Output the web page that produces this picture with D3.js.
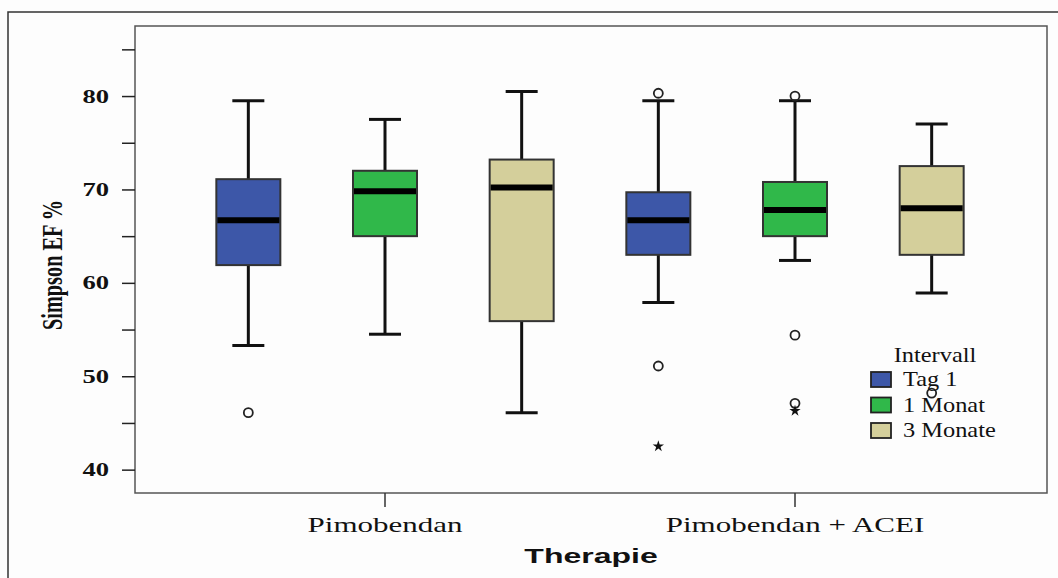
<!DOCTYPE html>
<html>
<head>
<meta charset="utf-8">
<script src="https://cdn.jsdelivr.net/npm/d3@7"></script>
<style>
  body { margin: 0; background: #fdfdfd; }
  svg { display: block; }
  .tick-num { font-family: "Liberation Serif", serif; font-weight: bold; font-size: 19px; }
  .cat-label { font-family: "Liberation Serif", serif; font-size: 20px; }
  .legend-text { font-family: "Liberation Serif", serif; font-size: 20px; }
</style>
</head>
<body>
<svg id="chart" width="1058" height="578"></svg>
<script>
// categories
var therapies = ["Pimobendan", "Pimobendan + ACEI"];
var intervals = ["Tag 1", "1 Monat", "3 Monate"];
var colors = ["#3d57a8", "#30b84a", "#d4cf9b"];

// box stats per therapy, order: Tag 1, 1 Monat, 3 Monate  [min, q1, median, q3, max]
var pimoStats = [
    [53.3, 61.9, 66.7, 71.1, 79.5],
    [54.5, 65.0, 69.8, 72.0, 77.5],
    [46.1, 55.9, 70.2, 73.2, 80.5]
];
var aceiStats = [
    [57.9, 63.0, 66.7, 69.7, 79.5],
    [62.4, 65.0, 67.8, 70.8, 79.5],
    [58.9, 63.0, 68.0, 72.5, 77.0]
];
// outliers (circles) and extremes (stars)
var pimoOutliers = [[46.1], [], []];
var aceiOutliers = [[80.3, 51.1], [80.0, 54.4, 47.1], [48.2]];
var pimoExtremes = [[], [], []];
var aceiExtremes = [[42.5], [46.3], []];

var yTicks = [40, 50, 60, 70, 80];
var yMinor = [45, 55, 65, 75, 85];

var rows = [];
therapies.forEach(function(t, ti){
    var stats = ti == 0 ? pimoStats : aceiStats;
    var outs = ti == 0 ? pimoOutliers : aceiOutliers;
    var ext = ti == 0 ? pimoExtremes : aceiExtremes;
    intervals.forEach(function(iv, ii){
        var s = stats[ii];
        rows.push({therapy: t, interval: iv, min: s[0], q1: s[1], median: s[2], q3: s[3], max: s[4],
                   outliers: outs[ii], extremes: ext[ii], color: colors[ii]});
    });
});

var svg = d3.select('#chart');

var plot = {left: 135, top: 26, right: 1047, bottom: 493};
// the source picture is stretched sideways, so the text is too
const stretch = 1.5;

// outer frame
svg.append('path')
    .attr('d', 'M8,590 L8,12 L1070,12')
    .attr('fill', 'none')
    .attr('stroke', '#333')
    .attr('stroke-width', 1.5);

// plot frame
svg.append('rect')
    .attr('x', plot.left)
    .attr('y', plot.top)
    .attr('width', plot.right - plot.left)
    .attr('height', plot.bottom - plot.top)
    .attr('fill', '#fdfdfd')
    .attr('stroke', '#555')
    .attr('stroke-width', 1.5);

var y = d3.scaleLinear()
    .domain([37.5, 87.5])
    .range([plot.bottom, plot.top]);

var x = d3.scaleBand()
    .domain(therapies)
    .range([180, 1000]);

var xInner = d3.scaleBand()
    .domain(intervals)
    .range([0, x.bandwidth()]);

var boxW = 64;
var capW = 32;

// y axis
var yAxis = svg.append('g')
    .attr('transform', 'translate(' + plot.left + ',0)')
    .call(d3.axisLeft(y).tickValues(yTicks).tickSize(13).tickFormat(d3.format('d')));
yAxis.select('.domain').remove();
yAxis.selectAll('.tick line').attr('stroke', '#222').attr('stroke-width', 1.5);
yAxis.selectAll('.tick text')
    .attr('class', 'tick-num')
    .attr('fill', '#111')
    .attr('x', -26 / 1.4)
    .attr('transform', 'scale(1.4,1)');

svg.append('g')
    .attr('transform', 'translate(' + plot.left + ',0)')
    .call(d3.axisLeft(y).tickValues(yMinor).tickSize(13).tickFormat(''))
    .call(function(g){ g.select('.domain').remove(); })
    .selectAll('.tick line').attr('stroke', '#222').attr('stroke-width', 1.5);

// x axis
var xAxis = svg.append('g')
    .attr('transform', 'translate(0,' + plot.bottom + ')')
    .call(d3.axisBottom(x).tickSize(14));
xAxis.select('.domain').remove();
xAxis.selectAll('.tick line').attr('stroke', '#333').attr('stroke-width', 1.5);
xAxis.selectAll('.tick text')
    .attr('class', 'cat-label')
    .attr('fill', '#111')
    .attr('y', 39)
    .attr('dy', 0)
    .attr('transform', 'scale(' + 1.55 + ',1)');

// axis titles
svg.append('text')
    .attr('transform', 'translate(62,265) rotate(-90) scale(1,' + stretch + ')')
    .attr('text-anchor', 'middle')
    .attr('textLength', 130)
    .attr('lengthAdjust', 'spacingAndGlyphs')
    .style('font-family', '"Liberation Serif", serif')
    .style('font-weight', 'bold')
    .style('font-size', '20px')
    .attr('fill', '#111')
    .text('Simpson EF %');

svg.append('text')
    .attr('transform', 'translate(591,563) scale(1.6,1)')
    .attr('text-anchor', 'middle')
    .style('font-family', '"Liberation Sans", Arial, sans-serif')
    .style('font-weight', 'bold')
    .style('font-size', '20px')
    .attr('fill', '#111')
    .text('Therapie');

// boxes
var boxes = svg.append('g')
    .selectAll('g')
    .data(rows)
    .enter()
    .append('g')
    .attr('transform', function(d){
        var cx = x(d.therapy) + xInner(d.interval) + xInner.bandwidth() / 2;
        return 'translate(' + cx + ',0)';
    });

boxes.append('line')
    .attr('x1', 0).attr('x2', 0)
    .attr('y1', d => y(d.max)).attr('y2', d => y(d.min))
    .attr('stroke', '#111').attr('stroke-width', 3);

boxes.append('line')
    .attr('x1', -capW / 2).attr('x2', capW / 2)
    .attr('y1', d => y(d.max)).attr('y2', d => y(d.max))
    .attr('stroke', '#111').attr('stroke-width', 3);

boxes.append('line')
    .attr('x1', -capW / 2).attr('x2', capW / 2)
    .attr('y1', d => y(d.min)).attr('y2', d => y(d.min))
    .attr('stroke', '#111').attr('stroke-width', 3);

boxes.append('rect')
    .attr('x', -boxW / 2)
    .attr('width', boxW)
    .attr('y', d => y(d.q3))
    .attr('height', d => y(d.q1) - y(d.q3))
    .attr('fill', d => d.color)
    .attr('stroke', '#333')
    .attr('stroke-width', 2);

boxes.append('line')
    .attr('x1', -boxW / 2 + 1).attr('x2', boxW / 2 - 1)
    .attr('y1', d => y(d.median)).attr('y2', d => y(d.median))
    .attr('stroke', '#000').attr('stroke-width', 6);

boxes.selectAll('circle.outlier')
    .data(d => d.outliers)
    .enter()
    .append('circle')
    .attr('class', 'outlier')
    .attr('cx', 0)
    .attr('cy', d => y(d))
    .attr('r', 4.5)
    .attr('fill', 'none')
    .attr('stroke', '#222')
    .attr('stroke-width', 1.8);

var star = d3.symbol().type(d3.symbolStar).size(40);
boxes.selectAll('path.extreme')
    .data(d => d.extremes)
    .enter()
    .append('path')
    .attr('class', 'extreme')
    .attr('transform', d => 'translate(0,' + y(d) + ')')
    .attr('d', star)
    .attr('fill', '#111');

// legend
var legend = svg.append('g').attr('transform', 'translate(871,362)');
legend.append('text')
    .attr('transform', 'translate(64,0) scale(1.22,1)')
    .attr('text-anchor', 'middle')
    .attr('class', 'legend-text')
    .attr('fill', '#111')
    .text('Intervall');

var items = legend.selectAll('g.item')
    .data(intervals)
    .enter()
    .append('g')
    .attr('class', 'item')
    .attr('transform', (d, i) => 'translate(0,' + (10 + i * 25.5) + ')');

items.append('rect')
    .attr('width', 20)
    .attr('height', 15)
    .attr('fill', (d, i) => colors[i])
    .attr('stroke', '#222')
    .attr('stroke-width', 1.8);

items.append('text')
    .attr('transform', 'translate(32,14) scale(1.22,1)')
    .attr('class', 'legend-text')
    .attr('fill', '#111')
    .text(d => d);
</script>
</body>
</html>
